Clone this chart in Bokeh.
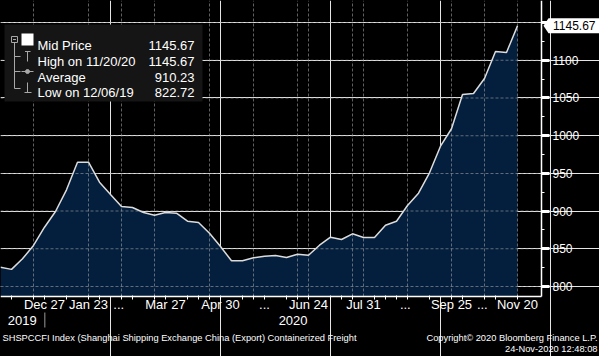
import numpy as np
from bokeh.plotting import figure
from bokeh.models import Range1d, LinearAxis, FixedTicker, GlobalInlineStyleSheet
from bokeh.core.properties import value
from bokeh.embed import file_html
from bokeh.resources import INLINE

# ---- data (weekly CCFI readings) ----
week_index = list(range(48))
mid_price = [825.6, 822.72, 836.7, 854.4, 878.6, 899.5, 928.2, 964.9, 964.9, 938.3,
             922.0, 906.1, 904.8, 898.1, 894.6, 898.1, 897.2, 886.6, 884.9, 870.7,
             853.0, 834.1, 834.1, 838.1, 840.2, 841.1, 838.5, 842.8, 841.5, 854.8,
             865.4, 862.3, 869.9, 865.0, 865.0, 881.3, 886.6, 907.4, 923.7, 950.8,
             986.1, 1009.2, 1054.6, 1056.0, 1075.9, 1111.7, 1110.3, 1145.67]

x_tick_labels = ["Dec 27", "Jan 23", "...", "Mar 27", "Apr 30", "...", "Jun 24",
                 "Jul 31", "...", "Sep 25", "...", "Nov 20"]
year_labels = ["2019", "2020"]
y_tick_values = [800, 850, 900, 950, 1000, 1050, 1100, 1150]

legend_labels = ["Mid Price", "High on 11/20/20", "Average", "Low on 12/06/19"]
legend_values = ["1145.67", "1145.67", "910.23", "822.72"]

footer_left = "SHSPCCFI Index (Shanghai Shipping Exchange China (Export) Containerized Freight"
footer_right = ["Copyright\u00a9 2020 Bloomberg Finance L.P.", "24-Nov-2020 12:48:08"]

# ---- axis layout (positions in week-index units) ----
x_label_pos = [4, 8, 10.75, 15, 20, 24, 28, 33, 36.8, 41, 43.8, 47]
x_minor_pos = [1, 3, 4, 6, 8, 9, 11, 12, 14, 15, 17, 18, 19, 20, 22, 23, 24, 26, 27, 28,
               30, 31, 32, 34, 35, 36, 37, 39, 41, 42, 44, 45, 47]
x_grid_pos = [3, 8, 11, 14, 19, 23, 27, 28, 32, 33, 37, 41, 44, 47]
year_pos = [1.97, 26.6]
year_sep = [4.03]
y_minor = [825, 875, 925, 975, 1025, 1075, 1125]

FONT = "Liberation Sans"
W, H = 599, 356
PX_X = 11.0                 # pixels per week
PX_Y = 0.754                # pixels per index point
X_END = 541 / PX_X          # right axis position (week units)
Y_BASE, Y_TOP = 786.74, 1179.31
Y_MIN = 707.16              # value at the bottom of the canvas
YEAR_AXIS_Y = 766.18

p = figure(width=W, height=H, output_backend="svg", toolbar_location=None,
           x_range=Range1d(0, W / PX_X), y_range=Range1d(Y_MIN, Y_TOP),
           x_axis_location=None, y_axis_location=None, min_border=0,
           background_fill_color="black", border_fill_color="black",
           outline_line_color=None)
p.stylesheets = [GlobalInlineStyleSheet(
    css="html,body{margin:0 !important;padding:0;background:#000;overflow:hidden;}")]
p.extra_x_ranges = {"px": Range1d(0, W)}
p.extra_y_ranges = {"px": Range1d(H, 0)}

# area + line
p.varea(x=week_index, y1=Y_BASE, y2=mid_price, fill_color="#041f3d")

# dashed grid lines: vertical ones as dashed multi-lines
p.multi_line(xs=[[gx, gx] for gx in x_grid_pos],
             ys=[[Y_BASE, Y_TOP] for _ in x_grid_pos],
             line_color="#a0a0a0", line_alpha=0.6, line_width=1, line_dash="3 2")
# horizontal ones as thin filled dashes (3px dash, 2px gap)
h_starts = np.arange(0, X_END, 5 / PX_X)
h_ends = np.minimum(h_starts + 3 / PX_X, X_END)
qx0, qx1, qy0, qy1 = [], [], [], []
for gy in y_tick_values:
    qx0 += list(h_starts); qx1 += list(h_ends)
    qy0 += [gy - 0.5 / PX_Y] * len(h_starts); qy1 += [gy + 0.5 / PX_Y] * len(h_starts)
p.quad(left=qx0, right=qx1, bottom=qy0, top=qy1, fill_color="#a0a0a0", fill_alpha=0.6,
       line_color=None)

p.line(x=week_index, y=mid_price, line_color="#dcdcdc", line_width=1.5)

# bottom axis: month labels, minor ticks
xa = LinearAxis(fixed_location=Y_BASE, bounds=(0, X_END),
                ticker=FixedTicker(ticks=x_label_pos, minor_ticks=x_minor_pos),
                major_label_overrides={k: v for k, v in zip(x_label_pos, x_tick_labels)},
                axis_line_color="white", axis_line_width=1.5,
                major_tick_line_color=None, major_tick_in=0, major_tick_out=0,
                minor_tick_line_color="white", minor_tick_in=1, minor_tick_out=3,
                major_label_standoff=-2, major_label_text_color="white",
                major_label_text_font=FONT, major_label_text_font_size="13px")
p.add_layout(xa, "below")

# year axis
ya = LinearAxis(fixed_location=YEAR_AXIS_Y,
                ticker=FixedTicker(ticks=year_pos),
                major_label_overrides={k: v for k, v in zip(year_pos, year_labels)},
                axis_line_color=None, major_tick_line_color=None,
                major_tick_in=0, major_tick_out=0,
                minor_tick_line_color=None, minor_tick_in=0, minor_tick_out=3,
                major_label_standoff=4, major_label_text_color="white",
                major_label_text_font=FONT, major_label_text_font_size="13px")
p.add_layout(ya, "below")
# year separator
p.quad(left=[year_sep[0] - 0.5 / PX_X], right=[year_sep[0] + 0.5 / PX_X], top=[312],
       bottom=[327], fill_color="#9a9a9a", line_color=None, y_range_name="px")

# right axis
ra = LinearAxis(fixed_location=X_END, bounds=(Y_BASE, Y_TOP),
                ticker=FixedTicker(ticks=y_tick_values, minor_ticks=y_minor),
                major_label_overrides={1150: ""},
                axis_line_color="white", axis_line_width=1.5,
                major_tick_line_color="white", major_tick_line_width=3,
                major_tick_in=0, major_tick_out=8,
                minor_tick_line_color="white", minor_tick_in=0, minor_tick_out=3,
                major_label_standoff=3, major_label_text_color="white",
                major_label_text_font=FONT, major_label_text_font_size="12px")
p.add_layout(ra, "right")

# legend panel (pixel coordinates)
px = dict(x_range_name="px", y_range_name="px")
p.quad(left=4, right=202, top=24, bottom=101, fill_color="#151515", line_color=None, **px)
icon = "#a8a8a8"
p.quad(left=11, right=17, top=36, bottom=42, fill_color=None, line_color=icon, **px)
p.segment(x0=[12.5, 14, 14, 14, 14, 27, 24.5, 21, 27, 24],
          y0=[39, 42, 56, 71, 88, 51, 51, 71, 82, 92],
          x1=[15.5, 14, 20, 20, 20, 27, 30, 33, 27, 31],
          y1=[39, 88, 56, 71, 88, 61, 51, 71, 92, 92],
          line_color=icon, line_width=1, **px)
p.scatter(x=[27], y=[71], size=4, fill_color=icon, line_color=icon, **px)
p.quad(left=21, right=33, top=33, bottom=45, fill_color="white", line_color=None, **px)
rows = [45 + 15.75 * i for i in range(len(legend_labels))]
p.text(x=[37] * len(rows), y=rows, text=legend_labels, text_color="white",
       text_font=value(FONT), text_font_size="13px", text_baseline="alphabetic", **px)
p.text(x=[194] * len(rows), y=rows, text=legend_values, text_color="white",
       text_font=value(FONT), text_font_size="13px", text_baseline="alphabetic",
       text_align="right", **px)

# last value tag on the right axis (x in pixels, y in data units)
last = mid_price[-1]
half = 7.5 / PX_Y
p.patch(x=[543, 548, 599, 599, 548], y=[last, last + half, last + half, last - half, last - half],
        fill_color="white", line_color=None, x_range_name="px")
p.text(x=[552.5], y=[last], text=[f"{last:.2f}"], text_color="black",
       text_font=value(FONT), text_font_size="12px", text_baseline="middle",
       x_range_name="px")

# footer
p.text(x=[2], y=[337], text=[footer_left], text_color="white", text_font=value(FONT),
       text_font_size="9.3px", text_baseline="middle", **px)
p.text(x=[597, 597], y=[337, 348], text=footer_right, text_color="white",
       text_font=value(FONT), text_font_size="9.3px", text_baseline="middle",
       text_align="right", **px)

open("out.html", "w").write(file_html(p, INLINE))
